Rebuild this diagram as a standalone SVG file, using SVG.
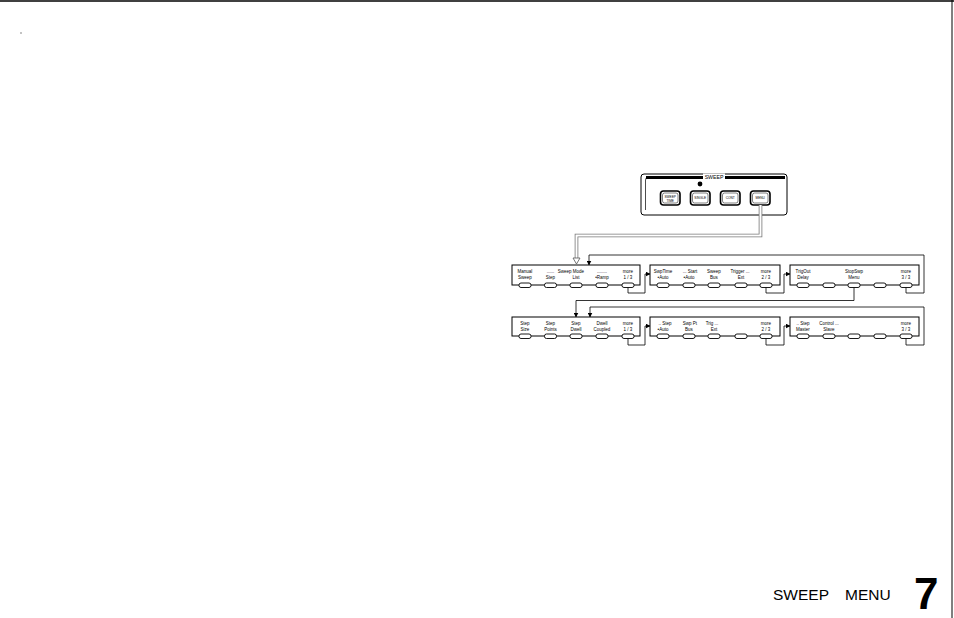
<svg xmlns="http://www.w3.org/2000/svg" width="954" height="618" viewBox="0 0 954 618">
<defs>
<style>
.t{font-family:"Liberation Sans",Arial,sans-serif;font-size:4.5px;fill:#000;text-anchor:middle}
.bt{font-family:"Liberation Sans",Arial,sans-serif;font-size:3.2px;fill:#000;text-anchor:middle}
.box{fill:#fff;stroke:#000;stroke-width:1}
.sk{fill:#fff;stroke:#000;stroke-width:0.9}
.ln{fill:none;stroke:#000;stroke-width:0.8}
.pb{fill:#fff;stroke:#000;stroke-width:1.6}
.pbi{fill:none;stroke:#000;stroke-width:0.5}
.ttl{font-family:"Liberation Sans",Arial,sans-serif;font-size:15.5px;fill:#000}
</style>
<marker id="ah" markerWidth="5" markerHeight="5" refX="4.5" refY="2.5" orient="auto" markerUnits="userSpaceOnUse">
<path d="M0,0 L5,2.5 L0,5 Z" fill="#000"/>
</marker>
</defs>
<rect width="954" height="618" fill="#fff"/>
<g id="page-frame">
<line x1="0" y1="1" x2="954" y2="1" stroke="#000" stroke-width="1.5"/>
<line x1="952" y1="0" x2="952" y2="618" stroke="#000" stroke-width="1"/>
<line x1="21" y1="32" x2="21" y2="34" stroke="#555" stroke-width="0.7"/>
</g>

<g id="sweep-panel">
<rect x="641" y="174" width="146" height="41" rx="3" fill="#fff" stroke="#000" stroke-width="1"/>
<path d="M645.5,210 L645.5,180 Q645.5,177 648.5,177 L784,177" fill="none" stroke="#000" stroke-width="0.7"/>
<line x1="646" y1="177.5" x2="785" y2="177.5" stroke="#000" stroke-width="3"/>
<rect x="703" y="173.5" width="22" height="6" fill="#fff"/>
<text x="714" y="179" font-family="'Liberation Sans',Arial,sans-serif" font-size="5.2" text-anchor="middle">SWEEP</text>
<circle cx="700" cy="184" r="2.4" fill="#000"/>
<g id="btn-sweep-time">
<rect class="pb" x="660.5" y="191" width="19.5" height="14" rx="3"/>
<rect class="pbi" x="662.5" y="193" width="15.5" height="10" rx="2"/>
<text class="bt" x="670.2" y="197.5">SWEEP</text>
<text class="bt" x="670.2" y="201.5">TIME</text>
</g>
<g id="btn-single">
<rect class="pb" x="690.5" y="191" width="19.5" height="14" rx="3"/>
<rect class="pbi" x="692.5" y="193" width="15.5" height="10" rx="2"/>
<text class="bt" x="700.2" y="199.3">SINGLE</text>
</g>
<g id="btn-cont">
<rect class="pb" x="720.5" y="191" width="19.5" height="14" rx="3"/>
<rect class="pbi" x="722.5" y="193" width="15.5" height="10" rx="2"/>
<text class="bt" x="730.2" y="199.3">CONT</text>
</g>
<g id="btn-menu">
<rect class="pb" x="750.5" y="191" width="19.5" height="14" rx="3"/>
<rect class="pbi" x="752.5" y="193" width="15.5" height="10" rx="2"/>
<text class="bt" x="760.2" y="199.3">MENU</text>
</g>
</g>

<g id="connectors">
<path d="M760.5,205 L760.5,235.5 L576.5,235.5 L576.5,258" fill="none" stroke="#777" stroke-width="3.6"/>
<path d="M760.5,205 L760.5,235.5 L576.5,235.5 L576.5,259" fill="none" stroke="#fff" stroke-width="2"/>
<path d="M573,258 L580,258 L576.5,264 Z" fill="#fff" stroke="#555" stroke-width="0.8"/>
<path class="ln" d="M628,287 L628,293 L645,293 L645,274 L650,274" marker-end="url(#ah)"/>
<path class="ln" d="M766,287 L766,293 L784,293 L784,274 L790,274" marker-end="url(#ah)"/>
<path class="ln" d="M906,287 L906,293 L924,293 L924,255 L589,255 L589,265" marker-end="url(#ah)"/>
<path class="ln" d="M854,287 L854,300.5 L576,300.5 L576,317" marker-end="url(#ah)"/>
<path class="ln" d="M628,338 L628,345 L645,345 L645,326 L650,326" marker-end="url(#ah)"/>
<path class="ln" d="M766,338 L766,345 L784,345 L784,326 L790,326" marker-end="url(#ah)"/>
<path class="ln" d="M906,338 L906,345 L924,345 L924,307 L590,307 L590,317" marker-end="url(#ah)"/>
</g>

<g id="menu-1-1">
<rect class="box" x="512" y="265" width="128" height="20"/>
<text class="t" x="525" y="273">Manual</text><text class="t" x="525" y="279">Sweep</text>
<text class="t" x="550.5" y="273">......</text><text class="t" x="550.5" y="279">Step</text>
<text class="t" x="571" y="273">Sweep  Mode</text><text class="t" x="576" y="279">List</text>
<text class="t" x="602" y="273">........</text><text class="t" x="602" y="279">•Ramp</text>
<text class="t" x="628" y="273">more</text><text class="t" x="628" y="279">1 / 3</text>
<rect class="sk" x="519" y="283" width="12" height="4.5" rx="2"/>
<rect class="sk" x="544.5" y="283" width="12" height="4.5" rx="2"/>
<rect class="sk" x="570" y="283" width="12" height="4.5" rx="2"/>
<rect class="sk" x="596" y="283" width="12" height="4.5" rx="2"/>
<rect class="sk" x="622" y="283" width="12" height="4.5" rx="2"/>
</g>

<g id="menu-1-2">
<rect class="box" x="650" y="265" width="130" height="20"/>
<text class="t" x="663" y="273">SwpTime</text><text class="t" x="663" y="279">•Auto</text>
<text class="t" x="690" y="273">... Start</text><text class="t" x="689" y="279">•Auto</text>
<text class="t" x="714" y="273">Sweep</text><text class="t" x="714" y="279">Bus</text>
<text class="t" x="740" y="273">Trigger ...</text><text class="t" x="741" y="279">Ext</text>
<text class="t" x="766" y="273">more</text><text class="t" x="766" y="279">2 / 3</text>
<rect class="sk" x="657" y="283" width="12" height="4.5" rx="2"/>
<rect class="sk" x="683" y="283" width="12" height="4.5" rx="2"/>
<rect class="sk" x="708" y="283" width="12" height="4.5" rx="2"/>
<rect class="sk" x="735" y="283" width="12" height="4.5" rx="2"/>
<rect class="sk" x="760" y="283" width="12" height="4.5" rx="2"/>
</g>

<g id="menu-1-3">
<rect class="box" x="790" y="265" width="129" height="20"/>
<text class="t" x="803" y="273">TrigOut</text><text class="t" x="803" y="279">Delay</text>
<text class="t" x="854" y="273">StopSwp</text><text class="t" x="854" y="279">Menu</text>
<text class="t" x="906" y="273">more</text><text class="t" x="906" y="279">3 / 3</text>
<rect class="sk" x="797" y="283" width="12" height="4.5" rx="2"/>
<rect class="sk" x="823" y="283" width="12" height="4.5" rx="2"/>
<rect class="sk" x="848" y="283" width="12" height="4.5" rx="2"/>
<rect class="sk" x="874" y="283" width="12" height="4.5" rx="2"/>
<rect class="sk" x="900" y="283" width="12" height="4.5" rx="2"/>
</g>

<g id="menu-2-1">
<rect class="box" x="512" y="317" width="128" height="19"/>
<text class="t" x="525" y="324.5">Step</text><text class="t" x="525" y="330.5">Size</text>
<text class="t" x="550.5" y="324.5">Step</text><text class="t" x="550.5" y="330.5">Points</text>
<text class="t" x="576" y="324.5">Step</text><text class="t" x="576" y="330.5">Dwell</text>
<text class="t" x="602" y="324.5">Dwell</text><text class="t" x="602" y="330.5">Coupled</text>
<text class="t" x="628" y="324.5">more</text><text class="t" x="628" y="330.5">1 / 3</text>
<rect class="sk" x="519" y="334" width="12" height="4.5" rx="2"/>
<rect class="sk" x="544.5" y="334" width="12" height="4.5" rx="2"/>
<rect class="sk" x="570" y="334" width="12" height="4.5" rx="2"/>
<rect class="sk" x="596" y="334" width="12" height="4.5" rx="2"/>
<rect class="sk" x="622" y="334" width="12" height="4.5" rx="2"/>
</g>

<g id="menu-2-2">
<rect class="box" x="650" y="317" width="130" height="19"/>
<text class="t" x="665" y="324.5">.. Step</text><text class="t" x="663" y="330.5">•Auto</text>
<text class="t" x="690" y="324.5">Swp  Pt</text><text class="t" x="689" y="330.5">Bus</text>
<text class="t" x="712" y="324.5">Trig ...</text><text class="t" x="714" y="330.5">Ext</text>
<text class="t" x="766" y="324.5">more</text><text class="t" x="766" y="330.5">2 / 3</text>
<rect class="sk" x="657" y="334" width="12" height="4.5" rx="2"/>
<rect class="sk" x="683" y="334" width="12" height="4.5" rx="2"/>
<rect class="sk" x="708" y="334" width="12" height="4.5" rx="2"/>
<rect class="sk" x="735" y="334" width="12" height="4.5" rx="2"/>
<rect class="sk" x="760" y="334" width="12" height="4.5" rx="2"/>
</g>

<g id="menu-2-3">
<rect class="box" x="790" y="317" width="129" height="19"/>
<text class="t" x="803" y="324.5">.. Step</text><text class="t" x="803" y="330.5">Master</text>
<text class="t" x="829" y="324.5">Control ...</text><text class="t" x="829" y="330.5">Slave</text>
<text class="t" x="906" y="324.5">more</text><text class="t" x="906" y="330.5">3 / 3</text>
<rect class="sk" x="797" y="334" width="12" height="4.5" rx="2"/>
<rect class="sk" x="823" y="334" width="12" height="4.5" rx="2"/>
<rect class="sk" x="848" y="334" width="12" height="4.5" rx="2"/>
<rect class="sk" x="874" y="334" width="12" height="4.5" rx="2"/>
<rect class="sk" x="900" y="334" width="12" height="4.5" rx="2"/>
</g>

<g id="page-title">
<text class="ttl" x="773" y="600">SWEEP</text>
<text class="ttl" x="845" y="600">MENU</text>
<text x="914" y="609" font-family="'Liberation Sans',Arial,sans-serif" font-size="44" font-weight="bold" fill="#000">7</text>
</g>
</svg>
